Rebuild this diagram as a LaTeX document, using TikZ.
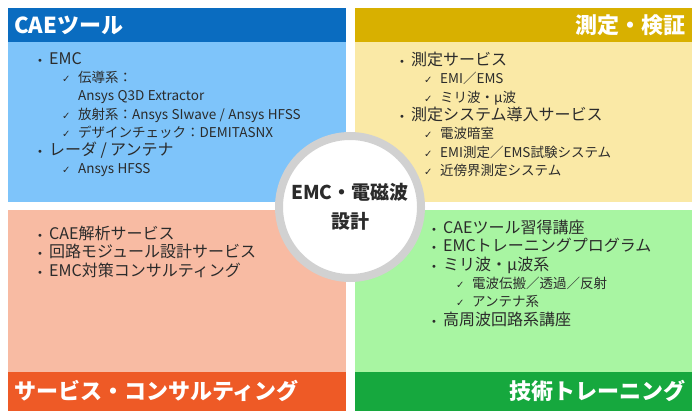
\documentclass[tikz,border=0pt]{standalone}
\usepackage{fontspec}
\setmainfont{Noto Sans CJK JP}
\newfontfamily\symfont{DejaVu Sans}
\usetikzlibrary{positioning}
\definecolor{cablue}{HTML}{0A6CC0}
\definecolor{cabluel}{HTML}{7EC4FA}
\definecolor{meyel}{HTML}{D8B000}
\definecolor{meyell}{HTML}{FAE9A6}
\definecolor{svred}{HTML}{EE5A26}
\definecolor{svredl}{HTML}{F8BBA3}
\definecolor{trgrn}{HTML}{16A83E}
\definecolor{trgrnl}{HTML}{A8F5A2}
\definecolor{txtgray}{HTML}{2B2B2B}
\newcommand{\itm}[1]{\fontsize{16}{18.3}\selectfont\makebox[12pt][l]{\symfont\fontsize{10}{10}\selectfont•}#1\par}
\newcommand{\chk}[1]{\fontsize{13.5}{18.3}\selectfont\hspace*{25pt}\makebox[16pt][l]{\symfont\fontsize{10}{10}\selectfont ✓}#1\par}
\newcommand{\cnt}[1]{\fontsize{13.5}{18.3}\selectfont\hspace*{41pt}#1\par}
\tikzset{
  bartext/.style={text=white, font=\bfseries\fontsize{22}{22}\selectfont, inner sep=0pt},
  listtext/.style={anchor=north west, text=txtgray, inner sep=0pt, text width=300pt},
  hub/.style={circle, draw=black!18, line width=8pt, fill=white, minimum size=142pt,
    align=center, text=txtgray, font=\bfseries\fontsize{19}{29}\selectfont}
}
\begin{document}
\begin{tikzpicture}[x=1pt,y=-1pt]
\useasboundingbox (0,0) rectangle (700,419);

% quadrants
\fill[cabluel] (8,8) rectangle (346,202);
\fill[cablue] (8,8) rectangle (346,42);
\fill[meyell] (355,8) rectangle (692,202);
\fill[meyel] (355,8) rectangle (692,42);
\fill[svredl] (8,210) rectangle (346,411);
\fill[svred] (8,372) rectangle (346,411);
\fill[trgrnl] (355,210) rectangle (692,411);
\fill[trgrn] (355,372) rectangle (692,411);

% bar titles
\node[bartext, anchor=west] (cae) at (14,25) {CAEツール};
\node[bartext, anchor=east] (meas) at (686,25) {測定・検証};
\node[bartext, anchor=west] (serv) at (14,391) {サービス・コンサルティング};
\node[bartext, anchor=east] (train) at (686,391) {技術トレーニング};

% lists
\node[listtext] (caelist) at (37,52) {%
  \itm{EMC}
  \chk{伝導系：}
  \cnt{Ansys Q3D Extractor}
  \chk{放射系：Ansys SIwave / Ansys HFSS}
  \chk{デザインチェック：DEMITASNX}
  \itm{レーダ / アンテナ}
  \chk{Ansys HFSS}};
\node[listtext] (measlist) at (399,52) {%
  \itm{測定サービス}
  \chk{EMI／EMS}
  \chk{ミリ波・µ波}
  \itm{測定システム導入サービス}
  \chk{電波暗室}
  \chk{EMI測定／EMS試験システム}
  \chk{近傍界測定システム}};
\node[listtext] (servlist) at (37,226) {%
  \itm{CAE解析サービス}
  \itm{回路モジュール設計サービス}
  \itm{EMC対策コンサルティング}};
\node[listtext] (trainlist) at (431,220) {%
  \itm{CAEツール習得講座}
  \itm{EMCトレーニングプログラム}
  \itm{ミリ波・µ波系}
  \chk{電波伝搬／透過／反射}
  \chk{アンテナ系}
  \itm{高周波回路系講座}};

% center
\node[hub] (emc) at (350,207) {EMC・電磁波\\設計};
\end{tikzpicture}
\end{document}
